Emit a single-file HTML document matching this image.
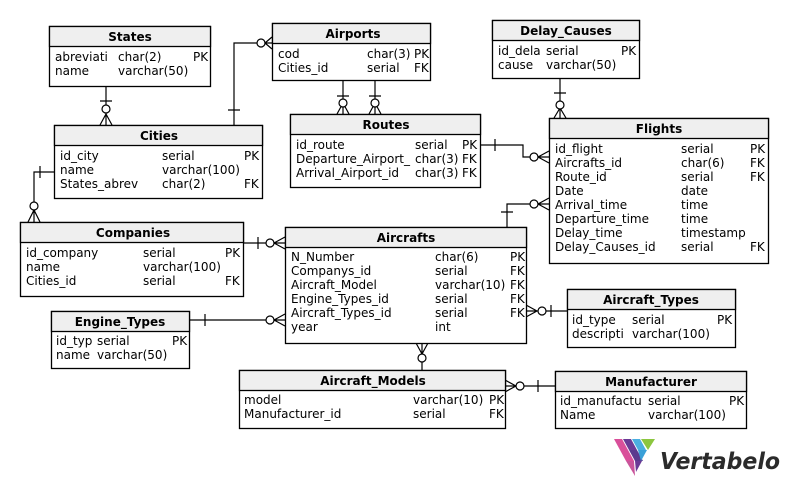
<!DOCTYPE html>
<html><head><meta charset="utf-8"><style>
html,body{margin:0;padding:0;background:#fff;width:788px;height:488px;overflow:hidden}
svg{display:block}
text{font-family:"DejaVu Sans","Liberation Sans",sans-serif;font-size:12px;fill:#000}
.h{font-weight:bold;text-anchor:middle}
.box{fill:#fff;stroke:#000;stroke-width:1.3}
.hd{fill:#efefef;stroke:#000;stroke-width:1.3}
.l{fill:none;stroke:#000;stroke-width:1.2}
.c{fill:#fff;stroke:#000;stroke-width:1.2}
</style></head><body>
<svg width="788" height="488" viewBox="0 0 788 488" xmlns="http://www.w3.org/2000/svg">
<g class="l">
<path d="M106 86V125M100 101H112M106 114L100 125M106 114L112 125M106 114V125"/>
<path d="M234 125V43H272M228 110H240M265 43L272 37M265 43L272 49"/>
<path d="M343 80V114M337 96H349M343 103L337 114M343 103L349 114M375 80V114M369 96H381M375 103L369 114M375 103L381 114"/>
<path d="M480 145H523V157H549M495 139V151M538 157L549 151M538 157L549 163"/>
<path d="M560 78V118M554 93H566M560 108L554 118M560 108L566 118"/>
<path d="M507 227V204H549M501 212H513M538 204L549 198M538 204L549 210"/>
<path d="M54 172H34V222M40 166V178M34 210L28 222M34 210L40 222"/>
<path d="M243 243H285M258 237V249M274 243L285 237M274 243L285 249"/>
<path d="M189 320H285M205 314V326M274 320L285 314M274 320L285 326"/>
<path d="M526 311H567M551 305V317M537 311L526 305M537 311L526 317"/>
<path d="M422 343V370M422 354L416 343M422 354L428 343"/>
<path d="M505 386H555M538 380V392M516 386L505 380M516 386L505 392"/>
</g>
<g class="c">
<circle cx="106" cy="109" r="4"/>
<circle cx="261" cy="43" r="4"/>
<circle cx="343" cy="103" r="4"/><circle cx="375" cy="103" r="4"/>
<circle cx="534" cy="157" r="4"/>
<circle cx="560" cy="105" r="4"/>
<circle cx="534" cy="204" r="4"/>
<circle cx="34" cy="206" r="4"/>
<circle cx="270" cy="243" r="4"/>
<circle cx="270" cy="320" r="4"/>
<circle cx="542" cy="311" r="4"/>
<circle cx="422" cy="358" r="4"/>
<circle cx="520" cy="386" r="4"/>
</g>

<rect class="box" x="49.5" y="26.5" width="161" height="60"/><rect class="hd" x="49.5" y="26.5" width="161" height="20"/>
<text class="h" x="130" y="41">States</text>
<text x="55" y="61">abreviati</text><text x="118" y="61">char(2)</text><text x="193" y="61">PK</text>
<text x="55" y="75">name</text><text x="118" y="75">varchar(50)</text>

<rect class="box" x="272.5" y="23.5" width="158" height="57"/><rect class="hd" x="272.5" y="23.5" width="158" height="20"/>
<text class="h" x="353" y="38">Airports</text>
<text x="278" y="58">cod</text><text x="367" y="58">char(3)</text><text x="414" y="58">PK</text>
<text x="278" y="72">Cities_id</text><text x="367" y="72">serial</text><text x="414" y="72">FK</text>

<rect class="box" x="492.5" y="20.5" width="147" height="58"/><rect class="hd" x="492.5" y="20.5" width="147" height="20"/>
<text class="h" x="566" y="35">Delay_Causes</text>
<text x="498" y="55">id_dela</text><text x="546" y="55">serial</text><text x="621" y="55">PK</text>
<text x="498" y="69">cause</text><text x="546" y="69">varchar(50)</text>

<rect class="box" x="54.5" y="125.5" width="208" height="73"/><rect class="hd" x="54.5" y="125.5" width="208" height="20"/>
<text class="h" x="159" y="140">Cities</text>
<text x="60" y="160">id_city</text><text x="162" y="160">serial</text><text x="244" y="160">PK</text>
<text x="60" y="174">name</text><text x="162" y="174">varchar(100)</text>
<text x="60" y="188">States_abrev</text><text x="162" y="188">char(2)</text><text x="244" y="188">FK</text>

<rect class="box" x="290.5" y="114.5" width="190" height="73"/><rect class="hd" x="290.5" y="114.5" width="190" height="20"/>
<text class="h" x="386" y="129">Routes</text>
<text x="296" y="149">id_route</text><text x="415" y="149">serial</text><text x="462" y="149">PK</text>
<text x="296" y="163">Departure_Airport_</text><text x="415" y="163">char(3)</text><text x="462" y="163">FK</text>
<text x="296" y="177">Arrival_Airport_id</text><text x="415" y="177">char(3)</text><text x="462" y="177">FK</text>

<rect class="box" x="549.5" y="118.5" width="219" height="145"/><rect class="hd" x="549.5" y="118.5" width="219" height="20"/>
<text class="h" x="659" y="133">Flights</text>
<text x="555" y="153">id_flight</text><text x="681" y="153">serial</text><text x="750" y="153">PK</text>
<text x="555" y="167">Aircrafts_id</text><text x="681" y="167">char(6)</text><text x="750" y="167">FK</text>
<text x="555" y="181">Route_id</text><text x="681" y="181">serial</text><text x="750" y="181">FK</text>
<text x="555" y="195">Date</text><text x="681" y="195">date</text>
<text x="555" y="209">Arrival_time</text><text x="681" y="209">time</text>
<text x="555" y="223">Departure_time</text><text x="681" y="223">time</text>
<text x="555" y="237">Delay_time</text><text x="681" y="237">timestamp</text>
<text x="555" y="251">Delay_Causes_id</text><text x="681" y="251">serial</text><text x="750" y="251">FK</text>

<rect class="box" x="20.5" y="222.5" width="223" height="74"/><rect class="hd" x="20.5" y="222.5" width="223" height="20"/>
<text class="h" x="133" y="237">Companies</text>
<text x="26" y="257">id_company</text><text x="143" y="257">serial</text><text x="225" y="257">PK</text>
<text x="26" y="271">name</text><text x="143" y="271">varchar(100)</text>
<text x="26" y="285">Cities_id</text><text x="143" y="285">serial</text><text x="225" y="285">FK</text>

<rect class="box" x="285.5" y="227.5" width="241" height="116"/><rect class="hd" x="285.5" y="227.5" width="241" height="20"/>
<text class="h" x="406" y="242">Aircrafts</text>
<text x="291" y="261">N_Number</text><text x="435" y="261">char(6)</text><text x="510" y="261">PK</text>
<text x="291" y="275">Companys_id</text><text x="435" y="275">serial</text><text x="510" y="275">FK</text>
<text x="291" y="289">Aircraft_Model</text><text x="435" y="289">varchar(10)</text><text x="510" y="289">FK</text>
<text x="291" y="303">Engine_Types_id</text><text x="435" y="303">serial</text><text x="510" y="303">FK</text>
<text x="291" y="317">Aircraft_Types_id</text><text x="435" y="317">serial</text><text x="510" y="317">FK</text>
<text x="291" y="331">year</text><text x="435" y="331">int</text>

<rect class="box" x="567.5" y="289.5" width="168" height="58"/><rect class="hd" x="567.5" y="289.5" width="168" height="20"/>
<text class="h" x="651" y="304">Aircraft_Types</text>
<text x="572" y="324">id_type</text><text x="632" y="324">serial</text><text x="717" y="324">PK</text>
<text x="572" y="338">descripti</text><text x="632" y="338">varchar(100)</text>

<rect class="box" x="51.5" y="311.5" width="138" height="57"/><rect class="hd" x="51.5" y="311.5" width="138" height="20"/>
<text class="h" x="120" y="326">Engine_Types</text>
<text x="56" y="345">id_typ</text><text x="97" y="345">serial</text><text x="172" y="345">PK</text>
<text x="56" y="359">name</text><text x="97" y="359">varchar(50)</text>

<rect class="box" x="239.5" y="370.5" width="266" height="58"/><rect class="hd" x="239.5" y="370.5" width="266" height="20"/>
<text class="h" x="373" y="385">Aircraft_Models</text>
<text x="244" y="404">model</text><text x="413" y="404">varchar(10)</text><text x="489" y="404">PK</text>
<text x="244" y="418">Manufacturer_id</text><text x="413" y="418">serial</text><text x="489" y="418">FK</text>

<rect class="box" x="555.5" y="371.5" width="191" height="57"/><rect class="hd" x="555.5" y="371.5" width="191" height="20"/>
<text class="h" x="651" y="386">Manufacturer</text>
<text x="560" y="405">id_manufactu</text><text x="648" y="405">serial</text><text x="729" y="405">PK</text>
<text x="560" y="419">Name</text><text x="648" y="419">varchar(100)</text>

<g>
<polygon points="614,439 622,439 628,450 620,450" fill="#d94f9a"/>
<polygon points="623,439 631,439 637,450 629,450" fill="#6a3a96"/>
<polygon points="632,439 640,439 646,450 638,450" fill="#4aaee0"/>
<polygon points="641,439 655,439 648,450" fill="#8cc63f"/>
<polygon points="620,450 628,450 634,461 626,461" fill="#d94f9a"/>
<polygon points="629,450 637,450 643,461 635,461" fill="#5b3a8e"/>
<polygon points="638,450 647,450 641,461" fill="#3aa0d8"/>
<polygon points="626,461 634,461 635,476" fill="#c9559b"/>
<polygon points="635,461 642,461 636,472" fill="#6a3a96"/>
<text x="660" y="469" textLength="120" lengthAdjust="spacingAndGlyphs" style="font-family:'DejaVu Sans','Liberation Sans',sans-serif;font-size:23px;font-weight:bold;font-style:italic;fill:#2b2b2b">Vertabelo</text>
</g>
</svg>
</body></html>
